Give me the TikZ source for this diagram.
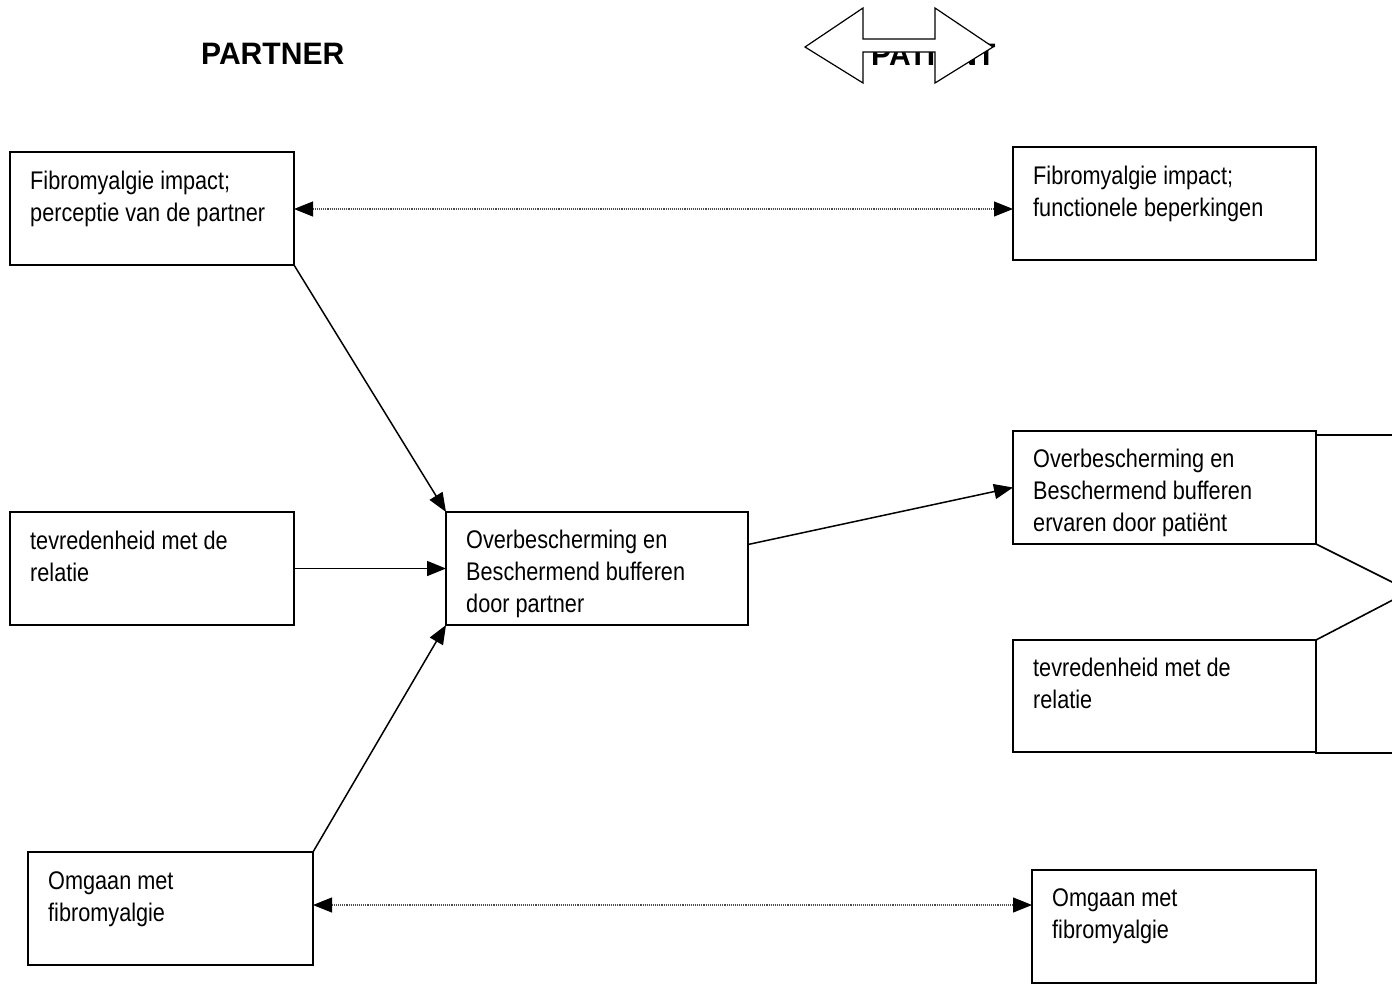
\documentclass[tikz,border=0pt]{standalone}
\usepackage{fontspec}
\setmainfont[FakeStretch=0.85]{Liberation Sans}
\newfontfamily\headfont[FakeStretch=0.97]{Liberation Sans}
\usetikzlibrary{arrows.meta}
\newcommand\boxtxt[1]{\parbox[t]{290pt}{\raggedright\setlength{\baselineskip}{32pt}#1}}
\tikzset{
  box/.style={draw, line width=1.6pt, inner sep=0pt, outer sep=0pt, anchor=north west, minimum height=113pt},
  txt/.style={inner sep=0pt, anchor=base west, font=\fontsize{25.5}{32}\selectfont},
  head/.style={inner sep=0pt, anchor=base west, font=\headfont\fontsize{31}{36}\selectfont\bfseries},
  conn/.style={line width=1.5pt, -{Triangle[length=19pt,width=15pt]}},
  dotconn/.style={line width=1.1pt, densely dotted, draw=black!70, {Triangle[length=19pt,width=15pt,color=black]}-{Triangle[length=19pt,width=15pt,color=black]}},
}
\begin{document}
\begin{tikzpicture}[x=1pt,y=-1pt]
\useasboundingbox[fill=white] (0,0) rectangle (1392,985);
\begin{scope}
\clip (0,0) rectangle (1392,985);
% headings
\node[head] (hpartner) at (201,64) {PARTNER};
\node[head] (hpatient) at (871,65) {PATIENT};
\draw[fill=white, line width=1.2pt] (805,47) -- (863,8) -- (863,39) -- (935,39) -- (935,8) -- (993,47) -- (935,83) -- (935,52) -- (863,52) -- (863,83) -- cycle;
% left column
\node[box, minimum width=284pt] (A) at (10,152) {};
\node[txt] (Atxt) at (30,189) {\boxtxt{Fibromyalgie impact;\\perceptie van de partner}};
\node[box, minimum width=284pt] (B) at (10,512) {};
\node[txt] (Btxt) at (30,549) {\boxtxt{tevredenheid met de\\relatie}};
\node[box, minimum width=285pt] (C) at (28,852) {};
\node[txt] (Ctxt) at (48,889) {\boxtxt{Omgaan met\\fibromyalgie}};
% center
\node[box, minimum width=302pt] (D) at (446,512) {};
\node[txt] (Dtxt) at (466,548) {\boxtxt{Overbescherming en\\Beschermend bufferen\\door partner}};
% right column
\node[box, minimum width=303pt] (E) at (1013,147) {};
\node[txt] (Etxt) at (1033,184) {\boxtxt{Fibromyalgie impact;\\functionele beperkingen}};
\node[box, minimum width=303pt] (F) at (1013,431) {};
\node[txt] (Ftxt) at (1033,467) {\boxtxt{Overbescherming en\\Beschermend bufferen\\ervaren door patiënt}};
\node[box, minimum width=303pt, minimum height=112pt] (G) at (1013,640) {};
\node[txt] (Gtxt) at (1033,676) {\boxtxt{tevredenheid met de\\relatie}};
\node[box, minimum width=284pt] (H) at (1032,870) {};
\node[txt] (Htxt) at (1052,906) {\boxtxt{Omgaan met\\fibromyalgie}};
% notched shape at right edge
\draw[line width=1.6pt] (1400,435) -- (F.north east |- 0,435) -- (F.south east) -- (1410,591) -- (G.north east) -- (G.south east |- 0,753) -- (1400,753);
% connectors
\draw[dotconn] ([yshift=-0.5pt]A.east) -- ([yshift=-0.5pt]A.east -| E.west);
\draw[conn] (A.south east) -- (D.north west);
\draw[conn] (B.east) -- (D.west);
\draw[conn] (C.north east) -- (D.south west);
\draw[conn] ([yshift=24pt]D.east) -- (F.west);
\draw[dotconn] ([yshift=3.5pt]C.east) -- ([yshift=3.5pt]C.east -| H.west);
\end{scope}
\end{tikzpicture}
\end{document}
